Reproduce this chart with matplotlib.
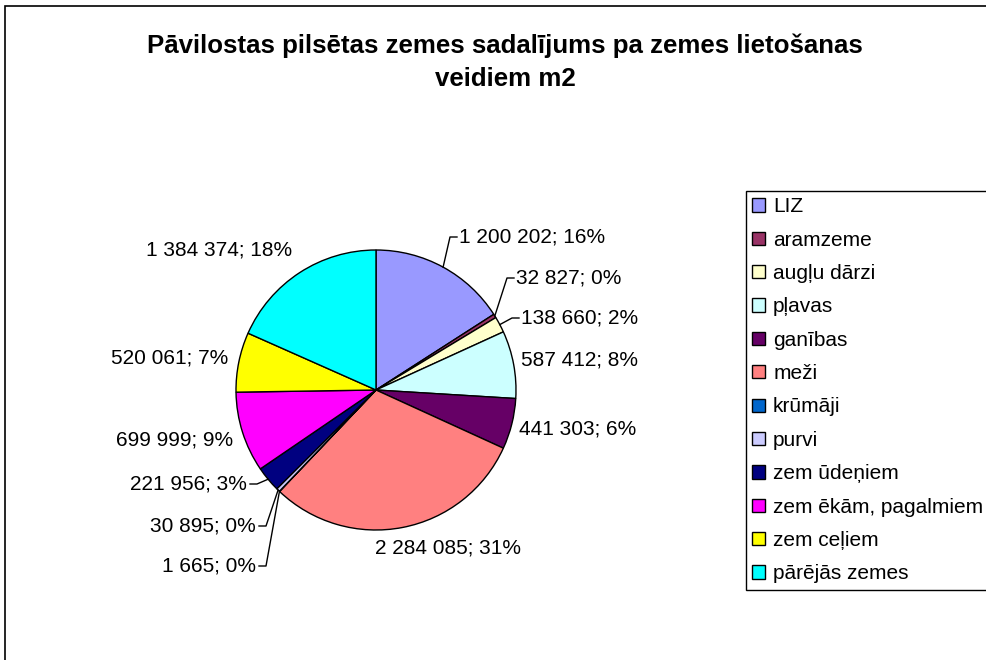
import matplotlib
matplotlib.use('Agg')
import matplotlib.pyplot as plt
from matplotlib.patches import Patch, Rectangle
import numpy as np

plt.rcParams['font.family'] = ['Liberation Sans', 'DejaVu Sans']

categories = ['LIZ', 'aramzeme', 'augļu dārzi', 'pļavas', 'ganības', 'meži',
              'krūmāji', 'purvi', 'zem ūdeņiem', 'zem ēkām, pagalmiem',
              'zem ceļiem', 'pārējās zemes']
areas_m2 = [1200202, 32827, 138660, 587412, 441303, 2284085,
            1665, 30895, 221956, 699999, 520061, 1384374]
percents = [16, 0, 2, 8, 6, 31, 0, 0, 3, 9, 7, 18]
colors = ['#9999FF', '#993366', '#FFFFCC', '#CCFFFF', '#660066', '#FF8080',
          '#0066CC', '#CCCCFF', '#000080', '#FF00FF', '#FFFF00', '#00FFFF']

title = 'Pāvilostas pilsētas zemes sadalījums pa zemes lietošanas\nveidiem m2'

W, H = 986, 660
CX, CY, R = 376, 390, 140   # pie centre / radius in pixels (y from top)

# label anchor (x, y from top), alignment, leader line or not
label_pos = [(459, 237, 'left', True), (516, 278, 'left', True),
             (521, 318, 'left', True), (521, 360, 'left', False),
             (519, 429, 'left', False), (448, 548, 'center', False),
             (256, 566, 'right', True), (256, 526, 'right', True),
             (247, 484, 'right', True), (233, 440, 'right', False),
             (228, 358, 'right', False), (292, 250, 'right', False)]

LABEL_FS = 15


def fmt(v):
    return '{:,}'.format(v).replace(',', ' ')


fig = plt.figure(figsize=(W / 100, H / 100), dpi=100)
ax = fig.add_axes([0, 0, 1, 1])

wedges, _ = ax.pie(areas_m2, colors=colors, startangle=90, counterclock=False,
                   center=(CX, H - CY), radius=R,
                   wedgeprops=dict(edgecolor='black', linewidth=1))
ax.set_xlim(0, W)
ax.set_ylim(0, H)
ax.set_aspect('equal')
ax.axis('off')

# outer chart frame (right and bottom run off the image)
ax.add_patch(Rectangle((5, -20), W + 20, H - 6 + 20, fill=False,
                       edgecolor='black', linewidth=1.2))

for w, v, p, (lx, ly, ha, leader) in zip(wedges, areas_m2, percents, label_pos):
    ax.text(lx, H - ly, '{}; {}%'.format(fmt(v), p), ha=ha, va='center',
            fontsize=LABEL_FS)
    if leader:
        mid = np.deg2rad((w.theta1 + w.theta2) / 2)
        ex = CX + R * np.cos(mid)
        ey = H - CY + R * np.sin(mid)
        if ha == 'left':
            xs = [lx - 2, lx - 9, ex]
        else:
            xs = [lx + 3, lx + 10, ex]
        ys = [H - ly, H - ly, ey]
        ax.plot(xs, ys, color='black', linewidth=1)

ax.text(505, H - 62, title, ha='center', va='center', fontsize=18.6,
        fontweight='bold', linespacing=1.5)

handles = [Patch(facecolor=c, edgecolor='black', linewidth=1) for c in colors]
leg = ax.legend(handles, categories, loc='upper left',
                bbox_to_anchor=(746 / W, 1 - 191 / H), bbox_transform=fig.transFigure,
                frameon=True, fancybox=False, framealpha=1, edgecolor='black',
                fontsize=15, handlelength=0.6, handleheight=0.6,
                handletextpad=0.4, labelspacing=0.69, borderpad=0.3,
                borderaxespad=0)
leg.get_frame().set_linewidth(1)

fig.savefig('out.png', dpi=100)
